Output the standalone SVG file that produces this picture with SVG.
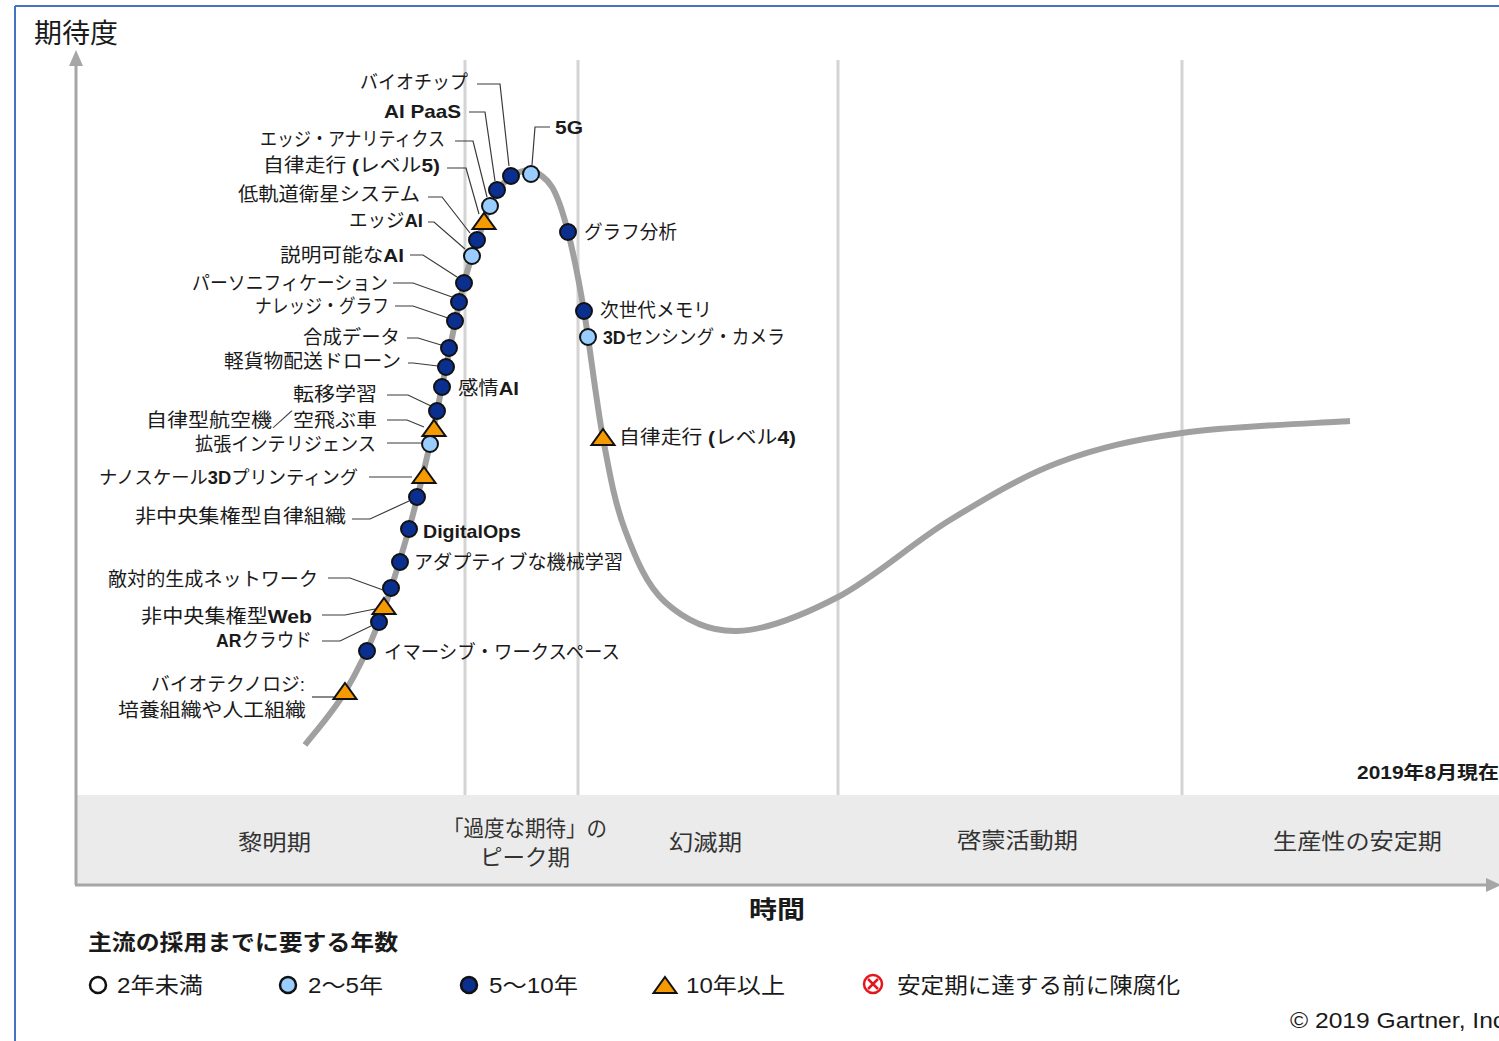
<svg xmlns="http://www.w3.org/2000/svg" xmlns:xlink="http://www.w3.org/1999/xlink" width="1499" height="1041" viewBox="0 0 1499 1041">
<style>
text{font-family:"Liberation Sans","Noto Sans CJK JP",sans-serif;fill:#1a1a1a}
.lb{font-size:19px}
.b{font-weight:bold}
.ph{font-size:22px;fill:#333}
.lg{font-size:22px}
.dk{fill:#0b2f8f;stroke:#111;stroke-width:2}
.lt{fill:#99ccff;stroke:#111;stroke-width:2}
.tr{fill:#f59a00;stroke:#111;stroke-width:2;stroke-linejoin:miter}
.ld{fill:none;stroke:#3a3a3a;stroke-width:1.2}
.sep{stroke:#d4d4d4;stroke-width:3}
.ax{stroke:#a6a6a6;stroke-width:3;fill:none}
</style>
<defs>
<path id="tri" d="M0,-9 L11.5,7 L-11.5,7 Z"/>
</defs>
<rect width="1499" height="1041" fill="#fff"/>
<g id="frame">
<line x1="15" y1="6" x2="1499" y2="6" stroke="#4472c4" stroke-width="2"/>
<line x1="15" y1="6" x2="15" y2="1041" stroke="#4472c4" stroke-width="2"/>
</g>
<g id="background">
<rect x="77" y="795" width="1422" height="89" fill="#ebebeb"/>
<line class="sep" x1="465" y1="60" x2="465" y2="795"/>
<line class="sep" x1="578" y1="60" x2="578" y2="795"/>
<line class="sep" x1="838" y1="60" x2="838" y2="795"/>
<line class="sep" x1="1182" y1="60" x2="1182" y2="795"/>
<line class="ax" x1="76" y1="885" x2="76" y2="62"/>
<path d="M69,66 L76,50 L83,66 Z" fill="#a6a6a6"/>
<line class="ax" x1="75" y1="885" x2="1488" y2="885"/>
<path d="M1486,878 L1501,885 L1486,892 Z" fill="#a6a6a6"/>
<text x="34" y="43" font-size="27" textLength="84" lengthAdjust="spacingAndGlyphs">期待度</text>
<text x="749" y="918" font-size="24" class="b" textLength="56" lengthAdjust="spacingAndGlyphs">時間</text>
<text x="1357" y="779" font-size="18" class="b" textLength="142" lengthAdjust="spacingAndGlyphs">2019年8月現在</text>
<text class="ph" x="238" y="850" textLength="73" lengthAdjust="spacingAndGlyphs">黎明期</text>
<text class="ph" x="443" y="836" textLength="164" lengthAdjust="spacingAndGlyphs">「過度な期待」の</text>
<text class="ph" x="480" y="865" textLength="90" lengthAdjust="spacingAndGlyphs">ピーク期</text>
<text class="ph" x="669" y="850" textLength="73" lengthAdjust="spacingAndGlyphs">幻滅期</text>
<text class="ph" x="957" y="848" textLength="121" lengthAdjust="spacingAndGlyphs">啓蒙活動期</text>
<text class="ph" x="1273" y="849" textLength="169" lengthAdjust="spacingAndGlyphs">生産性の安定期</text>
</g>
<g id="curve">
<path d="M305,745 C311.7,736.2 332.7,712.5 345,692 C357.3,671.5 368.3,649.2 379,622 C389.7,594.8 400.5,558.7 409,529 C417.5,499.3 423.8,471 430,444 C436.2,417 440.3,393.8 446,367 C451.7,340.2 457.7,307.2 464,283 C470.3,258.8 478.5,237.2 484,222 C489.5,206.8 492.3,199.7 497,192 C501.7,184.3 506.3,179.5 512,176 C517.7,172.5 524.3,169.2 531,171 C537.7,172.8 545.8,176.8 552,187 C558.2,197.2 562.7,211.3 568,232 C573.3,252.7 578.2,276.7 584,311 C589.8,345.3 596.2,401.5 603,438 C609.8,474.5 614.7,502.7 625,530 C635.3,557.3 646.3,585.2 665,602 C683.7,618.8 708.2,631.8 737,631 C765.8,630.2 802.5,615.5 838,597 C873.5,578.5 913,542.5 950,520 C987,497.5 1021.3,476.5 1060,462 C1098.7,447.5 1133.7,439.8 1182,433 C1230.3,426.2 1322,423 1350,421" fill="none" stroke="#a0a0a0" stroke-width="6"/>
</g>
<g id="connectors">
<polyline class="ld" points="477,84 500,84 509,166"/>
<polyline class="ld" points="469,112 485,112 495,181"/>
<polyline class="ld" points="455,141 473,141 487,197"/>
<polyline class="ld" points="447,168 466,168 479,214"/>
<polyline class="ld" points="428,197 442,197 470,233"/>
<polyline class="ld" points="428,222 434,222 465,249"/>
<polyline class="ld" points="410,255 423,255 457,277"/>
<polyline class="ld" points="393,283 413,283 452,297"/>
<polyline class="ld" points="395,306 413,306 448,318"/>
<polyline class="ld" points="407,338 418,338 441,345"/>
<polyline class="ld" points="408,363 413,363 438,366"/>
<polyline class="ld" points="387,395 408,395 431,406"/>
<polyline class="ld" points="387,420 407,420 424,427"/>
<polyline class="ld" points="387,443 421,443"/>
<polyline class="ld" points="369,477 412,477"/>
<polyline class="ld" points="352,519 370,519 409,501"/>
<polyline class="ld" points="328,578 350,578 383,590"/>
<polyline class="ld" points="322,615 345,615 375,609"/>
<polyline class="ld" points="322,641 340,641 371,626"/>
<polyline class="ld" points="312,697 334,697"/>
<polyline class="ld" points="532,165 535,127 550,127"/>
</g>
<g id="n-biochip"><circle class="dk" cx="511" cy="176" r="8"/><text class="lb" x="360" y="89" textLength="108" lengthAdjust="spacingAndGlyphs">バイオチップ</text></g>
<g id="n-aipaas"><circle class="dk" cx="497" cy="190" r="8"/><text class="lb b" x="384" y="118" textLength="77" lengthAdjust="spacingAndGlyphs">AI PaaS</text></g>
<g id="n-5g"><circle class="lt" cx="531" cy="174" r="8"/><text class="lb b" x="555" y="134" textLength="28" lengthAdjust="spacingAndGlyphs">5G</text></g>
<g id="n-edge-analytics"><circle class="lt" cx="490" cy="206" r="8"/><text class="lb" x="260" y="146" textLength="185" lengthAdjust="spacingAndGlyphs">エッジ・アナリティクス</text></g>
<g id="n-auto5"><use href="#tri" class="tr" x="484" y="222"/><text class="lb" x="263" y="172" textLength="177" lengthAdjust="spacingAndGlyphs">自律走行 <tspan class="b">(</tspan>レベル<tspan class="b">5)</tspan></text></g>
<g id="n-leo"><circle class="dk" cx="477" cy="240" r="8"/><text class="lb" x="238" y="201" textLength="182" lengthAdjust="spacingAndGlyphs">低軌道衛星システム</text></g>
<g id="n-edgeai"><circle class="lt" cx="472" cy="256" r="8"/><text class="lb" x="349" y="227" textLength="74" lengthAdjust="spacingAndGlyphs">エッジ<tspan class="b">AI</tspan></text></g>
<g id="n-xai"><circle class="dk" cx="464" cy="283" r="8"/><text class="lb" x="280" y="262" textLength="124" lengthAdjust="spacingAndGlyphs">説明可能な<tspan class="b">AI</tspan></text></g>
<g id="n-personification"><circle class="dk" cx="459" cy="302" r="8"/><text class="lb" x="192" y="290" textLength="196" lengthAdjust="spacingAndGlyphs">パーソニフィケーション</text></g>
<g id="n-knowledge"><circle class="dk" cx="455" cy="321" r="8"/><text class="lb" x="255" y="313" textLength="134" lengthAdjust="spacingAndGlyphs">ナレッジ・グラフ</text></g>
<g id="n-synthetic"><circle class="dk" cx="449" cy="348" r="8"/><text class="lb" x="303" y="344" textLength="97" lengthAdjust="spacingAndGlyphs">合成データ</text></g>
<g id="n-drone"><circle class="dk" cx="446" cy="367" r="8"/><text class="lb" x="224" y="368" textLength="177" lengthAdjust="spacingAndGlyphs">軽貨物配送ドローン</text></g>
<g id="n-emotionai"><circle class="dk" cx="442" cy="387" r="8"/><text class="lb" x="458" y="395" textLength="61" lengthAdjust="spacingAndGlyphs">感情<tspan class="b">AI</tspan></text></g>
<g id="n-transfer"><circle class="dk" cx="437" cy="411" r="8"/><text class="lb" x="293" y="401" textLength="84" lengthAdjust="spacingAndGlyphs">転移学習</text></g>
<g id="n-flyingcar"><use href="#tri" class="tr" x="434" y="429"/><text class="lb" x="146" y="427" textLength="231" lengthAdjust="spacingAndGlyphs">自律型航空機／空飛ぶ車</text></g>
<g id="n-augmented"><circle class="lt" cx="430" cy="444" r="8"/><text class="lb" x="195" y="451" textLength="181" lengthAdjust="spacingAndGlyphs">拡張インテリジェンス</text></g>
<g id="n-nano3d"><use href="#tri" class="tr" x="424" y="476"/><text x="358" y="484" font-size="18.3" text-anchor="end">ナノスケール<tspan class="b">3D</tspan>プリンティング</text></g>
<g id="n-dao"><circle class="dk" cx="417" cy="497" r="8"/><text class="lb" x="135" y="523" textLength="211" lengthAdjust="spacingAndGlyphs">非中央集権型自律組織</text></g>
<g id="n-digitalops"><circle class="dk" cx="409" cy="529" r="8"/><text class="lb b" x="423" y="538" textLength="98" lengthAdjust="spacingAndGlyphs">DigitalOps</text></g>
<g id="n-adaptiveml"><circle class="dk" cx="400" cy="562" r="8"/><text class="lb" x="414" y="569" textLength="209" lengthAdjust="spacingAndGlyphs">アダプティブな機械学習</text></g>
<g id="n-gan"><circle class="dk" cx="391" cy="588" r="8"/><text class="lb" x="108" y="586" textLength="210" lengthAdjust="spacingAndGlyphs">敵対的生成ネットワーク</text></g>
<g id="n-dweb"><use href="#tri" class="tr" x="384" y="607"/><text class="lb" x="141" y="623" textLength="171" lengthAdjust="spacingAndGlyphs">非中央集権型<tspan class="b">Web</tspan></text></g>
<g id="n-arcloud"><circle class="dk" cx="379" cy="622" r="8"/><text class="lb" x="216" y="647" textLength="96" lengthAdjust="spacingAndGlyphs"><tspan class="b">AR</tspan>クラウド</text></g>
<g id="n-immersive"><circle class="dk" cx="367" cy="651" r="8"/><text class="lb" x="384" y="659" textLength="236" lengthAdjust="spacingAndGlyphs">イマーシブ・ワークスペース</text></g>
<g id="n-biotech"><use href="#tri" class="tr" x="345" y="692"/><text class="lb" x="151" y="691" textLength="154" lengthAdjust="spacingAndGlyphs">バイオテクノロジ:</text><text class="lb" x="118" y="717" textLength="188" lengthAdjust="spacingAndGlyphs">培養組織や人工組織</text></g>
<g id="n-graph"><circle class="dk" cx="568" cy="232" r="8"/><text class="lb" x="584" y="239" textLength="93" lengthAdjust="spacingAndGlyphs">グラフ分析</text></g>
<g id="n-memory"><circle class="dk" cx="584" cy="311" r="8"/><text class="lb" x="600" y="317" textLength="112" lengthAdjust="spacingAndGlyphs">次世代メモリ</text></g>
<g id="n-3dcam"><circle class="lt" cx="588" cy="337" r="8"/><text class="lb" x="603" y="344" textLength="182" lengthAdjust="spacingAndGlyphs"><tspan class="b">3D</tspan>センシング・カメラ</text></g>
<g id="n-auto4"><use href="#tri" class="tr" x="603" y="438"/><text class="lb" x="619" y="444" textLength="177" lengthAdjust="spacingAndGlyphs">自律走行 <tspan class="b">(</tspan>レベル<tspan class="b">4)</tspan></text></g>
<g id="legend">
<text x="88" y="950" font-size="22" class="b" textLength="310" lengthAdjust="spacingAndGlyphs">主流の採用までに要する年数</text>
<circle cx="98" cy="985" r="8" fill="#fff" stroke="#111" stroke-width="2.5"/>
<text class="lg" x="117" y="993" textLength="86" lengthAdjust="spacingAndGlyphs">2年未満</text>
<circle cx="288" cy="985" r="8" fill="#99ccff" stroke="#111" stroke-width="2.5"/>
<text class="lg" x="308" y="993" textLength="75" lengthAdjust="spacingAndGlyphs">2～5年</text>
<circle cx="469" cy="985" r="8" fill="#0b2f8f" stroke="#111" stroke-width="2.5"/>
<text class="lg" x="489" y="993" textLength="89" lengthAdjust="spacingAndGlyphs">5～10年</text>
<use href="#tri" class="tr" x="665" y="986"/>
<text class="lg" x="686" y="993" textLength="99" lengthAdjust="spacingAndGlyphs">10年以上</text>
<circle cx="873" cy="984" r="9" fill="#fff" stroke="#e3161b" stroke-width="2.5"/>
<path d="M868,979 L878,989 M878,979 L868,989" stroke="#e3161b" stroke-width="2.5"/>
<text class="lg" x="897" y="993" textLength="283" lengthAdjust="spacingAndGlyphs">安定期に達する前に陳腐化</text>
<text x="1290" y="1028" font-size="22" fill="#333" textLength="222" lengthAdjust="spacingAndGlyphs">© 2019 Gartner, Inc.</text>
</g>
</svg>
